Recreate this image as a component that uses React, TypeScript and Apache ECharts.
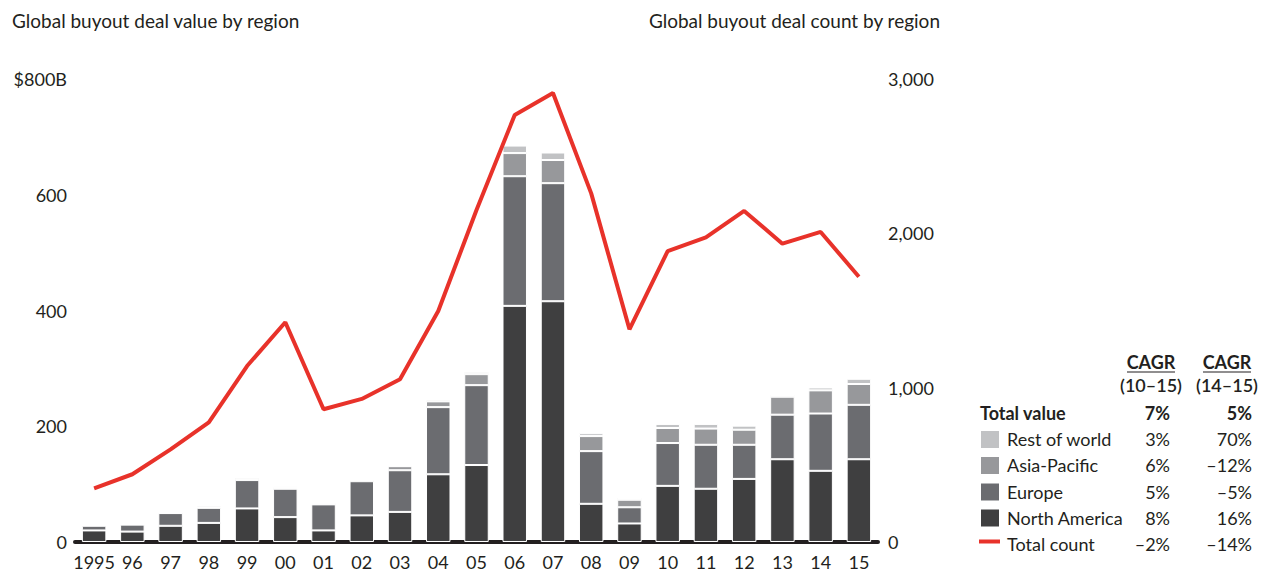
import React, { useEffect, useRef } from "react";
import * as echarts from "echarts";

const years = ["1995", "96", "97", "98", "99", "00", "01", "02", "03", "04", "05", "06", "07", "08", "09", "10", "11", "12", "13", "14", "15"];
const northAmerica = [20, 18, 28, 33, 58, 43, 20, 46, 52, 117, 133, 408, 416, 66, 32, 97, 92, 109, 143, 123, 143];
const europe = [8, 12, 22, 26, 49, 49, 45, 59, 72, 116, 138, 224, 204, 91, 28, 74, 76, 59, 77, 99, 94];
const asiaPacific = [1, 1, 0.5, 1, 3, 2, 2, 2, 7, 10, 19, 40, 40, 26, 13, 26, 28, 26, 31, 40, 36];
const restOfWorld = [0.5, 0.5, 0.5, 3, 2, 2, 1, 1, 1, 3, 4, 13, 13, 5, 3, 7, 8, 7, 3, 5, 9];
const totalCount = [348, 439, 600, 775, 1140, 1424, 860, 927, 1054, 1497, 2151, 2767, 2909, 2259, 1378, 1885, 1974, 2145, 1933, 2009, 1719];

const leftTicks = { min: 0, max: 800, interval: 200 };
const rightTicks = { min: 0, max: 3000, interval: 1000 };

const cagrHeaders = [["CAGR", "(10–15)"], ["CAGR", "(14–15)"]];
const tableLabels = ["Total value", "Rest of world", "Asia-Pacific", "Europe", "North America", "Total count"];
const cagr1015 = ["7%", "3%", "6%", "5%", "8%", "–2%"];
const cagr1415 = ["5%", "70%", "–12%", "–5%", "16%", "–14%"];

const TEXT = "#231f20";
const FONT = "Lato";
const FS = 18;
const colors = { na: "#3f3f40", eu: "#6b6c70", ap: "#97989b", row: "#c1c2c4", red: "#e8322a" };

export default function App() {
  const ref = useRef<HTMLDivElement>(null);
  useEffect(() => {
    if (!ref.current) return;
    const chart = echarts.init(ref.current, null, { renderer: "svg" });
    const swatchColors = [null, colors.row, colors.ap, colors.eu, colors.na, "line"];
    const rowY = [413, 439, 465, 491.5, 517.5, 543.5];
    const graphics: any[] = [];
    graphics.push({ type: "text", x: 12, y: 20, style: { text: "Global buyout deal value by region", font: `19px ${FONT}`, fill: TEXT, textVerticalAlign: "middle" } });
    graphics.push({ type: "text", x: 940, y: 20, style: { text: "Global buyout deal count by region", font: `19px ${FONT}`, fill: TEXT, textAlign: "right", textVerticalAlign: "middle" } });
    const colCenters = [1151, 1227];
    cagrHeaders.forEach((h, i) => {
      graphics.push({ type: "text", x: colCenters[i], y: 362, style: { text: h[0], font: `bold ${FS}px ${FONT}`, fill: TEXT, textAlign: "center", textVerticalAlign: "middle" } });
      graphics.push({ type: "line", shape: { x1: colCenters[i] - 24, y1: 372, x2: colCenters[i] + 24, y2: 372 }, style: { stroke: TEXT, lineWidth: 1.2 } });
      graphics.push({ type: "text", x: colCenters[i], y: 384.5, style: { text: h[1], font: `600 ${FS}px ${FONT}`, fill: TEXT, textAlign: "center", textVerticalAlign: "middle" } });
    });
    tableLabels.forEach((lab, i) => {
      const y = rowY[i];
      const bold = i === 0;
      const sw = swatchColors[i];
      if (sw === "line") {
        graphics.push({ type: "line", shape: { x1: 979, y1: y - 2, x2: 1000, y2: y - 2 }, style: { stroke: colors.red, lineWidth: 4 } });
      } else if (sw) {
        graphics.push({ type: "rect", shape: { x: 981, y: y - 8, width: 18, height: 17 }, style: { fill: sw } });
      }
      const f = `${bold ? "bold " : ""}${FS}px ${FONT}`;
      graphics.push({ type: "text", x: bold ? 980 : 1007, y, style: { text: lab, font: f, fill: TEXT, textVerticalAlign: "middle" } });
      graphics.push({ type: "text", x: 1170, y, style: { text: cagr1015[i], font: f, fill: TEXT, textAlign: "right", textVerticalAlign: "middle" } });
      graphics.push({ type: "text", x: 1252, y, style: { text: cagr1415[i], font: f, fill: TEXT, textAlign: "right", textVerticalAlign: "middle" } });
    });

    const barStyle = (c: string) => ({ color: c, borderColor: "#ffffff", borderWidth: 1 });
    chart.setOption({
      animation: false,
      textStyle: { fontFamily: FONT },
      grid: { left: 75, right: 389, top: 79, bottom: 31, containLabel: false },
      xAxis: {
        type: "category",
        data: years,
        axisLine: { show: true, lineStyle: { color: TEXT, width: 4 } },
        axisTick: { show: false },
        axisLabel: { color: TEXT, fontSize: FS, fontFamily: FONT, margin: 11, interval: 0 },
      },
      yAxis: [
        {
          type: "value", ...leftTicks,
          axisLine: { show: false }, axisTick: { show: false }, splitLine: { show: false },
          axisLabel: { color: TEXT, fontSize: FS, fontFamily: FONT, margin: 8, formatter: (v: number) => (v === 800 ? "$800B" : String(v)) },
        },
        {
          type: "value", ...rightTicks, position: "right",
          axisLine: { show: false }, axisTick: { show: false }, splitLine: { show: false },
          axisLabel: { color: TEXT, fontSize: FS, fontFamily: FONT, margin: 10, formatter: (v: number) => v.toLocaleString("en-US") },
        },
      ],
      series: [
        { name: "North America", type: "bar", stack: "v", data: northAmerica, itemStyle: barStyle(colors.na), barCategoryGap: "36%" },
        { name: "Europe", type: "bar", stack: "v", data: europe, itemStyle: barStyle(colors.eu) },
        { name: "Asia-Pacific", type: "bar", stack: "v", data: asiaPacific, itemStyle: barStyle(colors.ap) },
        { name: "Rest of world", type: "bar", stack: "v", data: restOfWorld, itemStyle: barStyle(colors.row) },
        { name: "Total count", type: "line", yAxisIndex: 1, data: totalCount, symbol: "none", z: 5, lineStyle: { color: colors.red, width: 4 } },
      ],
      graphic: graphics,
    });
    return () => chart.dispose();
  }, []);
  return <div ref={ref} style={{ position: "absolute", left: 0, top: 0, width: 1267, height: 573, background: "#fff" }} />;
}
